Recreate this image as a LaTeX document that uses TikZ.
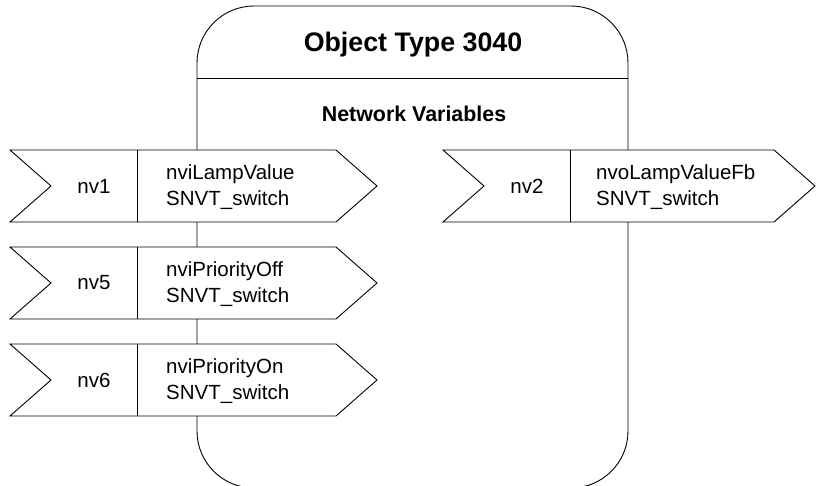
\documentclass[tikz,border=0pt]{standalone}
\usepackage{fontspec}
\setmainfont{Liberation Sans}
\newcommand\nvshape[3]{% #1 = left x, #2 = top y, #3 = width to tip
  \begin{scope}[shift={(#1,#2)}]
    \draw[nvbox] (0,0) -- (41,36) -- (0,72) -- (#3-41,72) -- (#3,36) -- (#3-41,0) -- cycle;
    \draw[divline] (127,0) -- (127,72);
  \end{scope}}
\begin{document}
\begin{tikzpicture}[x=1pt,y=-1pt,
  outline/.style={draw=black,line width=0.9pt},
  nvbox/.style={draw=black,line width=0.9pt,fill=white,line join=miter},
  divline/.style={draw=black,line width=0.8pt},
  idtext/.style={font=\fontsize{20.5}{24}\selectfont,inner sep=0pt},
  desctext/.style={font=\fontsize{20.5}{26}\selectfont,align=left,anchor=west,inner sep=0pt},
  headtext/.style={font=\bfseries\fontsize{#1}{#1}\selectfont,inner sep=0pt,anchor=base},
]
\useasboundingbox (0,0) rectangle (817,486);
\clip (0,0) rectangle (817,486);
% main object block
\draw[outline,rounded corners=57pt] (197,6) rectangle (628,488);
\coordinate (sepL) at (197,78);
\coordinate (sepR) at (628,78);
\draw[outline] (sepL) -- (sepR);
\node[headtext=26.8] (title) at (413,52) {Object Type 3040};
\node[headtext=21.4] (nvhead) at (414,122) {Network Variables};
% input network variables
\nvshape{10}{150}{367}
\node[idtext] (nv1) at (94,186) {nv1};
\node[desctext] (nv1d) at (166,187) {nviLampValue\\SNVT\_switch};
\nvshape{10}{247}{367}
\node[idtext] (nv5) at (94,283) {nv5};
\node[desctext] (nv5d) at (166,284) {nviPriorityOff\\SNVT\_switch};
\nvshape{10}{344}{367}
\node[idtext] (nv6) at (94,380) {nv6};
\node[desctext] (nv6d) at (166,381) {nviPriorityOn\\SNVT\_switch};
% output network variable
\nvshape{443}{150}{372}
\node[idtext] (nv2) at (527,186) {nv2};
\node[desctext] (nv2d) at (596,187) {nvoLampValueFb\\SNVT\_switch};
\end{tikzpicture}
\end{document}
